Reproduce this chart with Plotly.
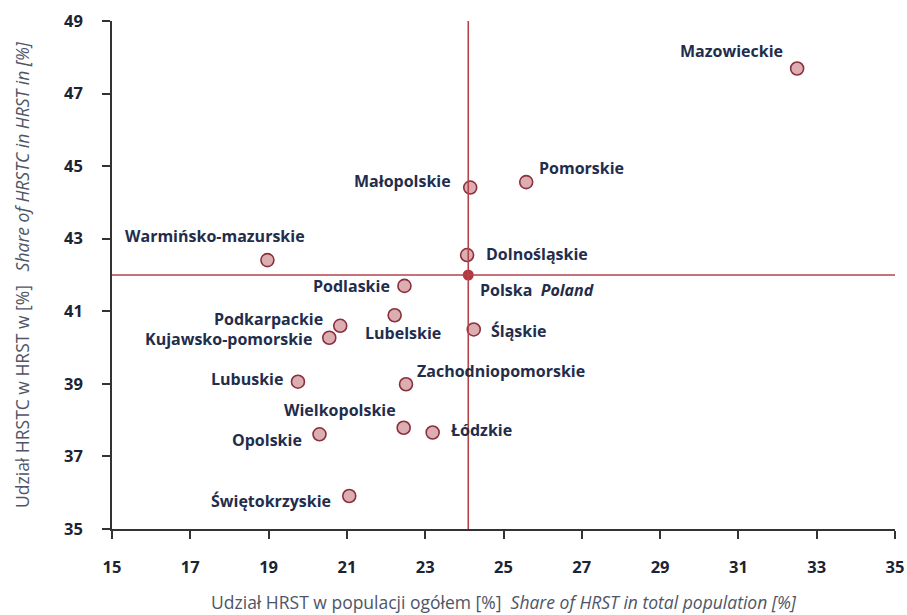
import plotly.graph_objects as go

# regions: share of HRST in population (x) vs share of HRSTC in HRST (y)
regions = ['Mazowieckie', 'Pomorskie', 'Małopolskie', 'Dolnośląskie',
           'Warmińsko-mazurskie', 'Podlaskie', 'Lubelskie', 'Podkarpackie',
           'Kujawsko-pomorskie', 'Śląskie', 'Lubuskie', 'Zachodniopomorskie',
           'Wielkopolskie', 'Łódzkie', 'Opolskie', 'Świętokrzyskie']
hrst_pop = [32.5, 25.58, 24.15, 24.07, 18.97, 22.47, 22.22, 20.83,
            20.55, 24.24, 19.75, 22.51, 22.45, 23.19, 20.30, 21.06]
hrstc_share = [47.69, 44.56, 44.41, 42.55, 42.41, 41.70, 40.89, 40.60,
               40.27, 40.50, 39.06, 38.99, 37.79, 37.66, 37.61, 35.91]

poland_x = 24.1
poland_y = 42.0

x_ticks = [15, 17, 19, 21, 23, 25, 27, 29, 31, 33, 35]
y_ticks = [35, 37, 39, 41, 43, 45, 47, 49]

# label placement (pixel offset from point, anchor)
label_pos = {
    'Mazowieckie': (-13, -18, 'right'),
    'Pomorskie': (12, -14, 'left'),
    'Małopolskie': (-18, -7, 'right'),
    'Dolnośląskie': (18, -1, 'left'),
    'Warmińsko-mazurskie': (-52, -24, 'center'),
    'Podlaskie': (-13, 0, 'right'),
    'Lubelskie': (8, 18, 'center'),
    'Podkarpackie': (-16, -7, 'right'),
    'Kujawsko-pomorskie': (-16, 1, 'right'),
    'Śląskie': (16, 2, 'left'),
    'Lubuskie': (-14, -3, 'right'),
    'Zachodniopomorskie': (10, -13, 'left'),
    'Wielkopolskie': (-7, -18, 'right'),
    'Łódzkie': (17, -2, 'left'),
    'Opolskie': (-17, 6, 'right'),
    'Świętokrzyskie': (-17, 5, 'right'),
}

line_col = '#b3434b'
label_col = '#232d4b'
font = 'Open Sans, sans-serif'

fig = go.Figure()

fig.add_hline(y=poland_y, line=dict(color=line_col, width=1.6))
fig.add_vline(x=poland_x, line=dict(color=line_col, width=1.6))

fig.add_trace(go.Scatter(
    x=hrst_pop, y=hrstc_share, mode='markers',
    marker=dict(size=13, color='#dcaeb2', line=dict(color='#8a2f3c', width=1.6)),
    hovertext=regions, showlegend=False,
))
fig.add_trace(go.Scatter(
    x=[poland_x], y=[poland_y], mode='markers',
    marker=dict(size=11, color='#b2383f'), showlegend=False,
))

for name, xv, yv in zip(regions, hrst_pop, hrstc_share):
    dx, dy, anchor = label_pos[name]
    fig.add_annotation(x=xv, y=yv, text='<b>' + name + '</b>', showarrow=False,
                       xshift=dx, yshift=-dy, xanchor=anchor, yanchor='middle',
                       borderpad=0,
                       font=dict(family=font, size=16, color=label_col))

fig.add_annotation(x=poland_x, y=poland_y, text='<b>Polska  <i>Poland</i></b>',
                   showarrow=False, xshift=11, yshift=-15, xanchor='left',
                   yanchor='middle', borderpad=0,
                   font=dict(family=font, size=16, color=label_col))

fig.update_layout(
    width=907, height=615,
    margin=dict(l=112, r=12, t=21, b=86),
    plot_bgcolor='white', paper_bgcolor='white',
    font=dict(family=font),
    xaxis=dict(
        range=[15, 35], tickvals=x_ticks, showgrid=False, zeroline=False,
        automargin=False,
        showline=True, linecolor='#333333', linewidth=1.5,
        ticks='outside', ticklen=8, tickcolor='#333333', tickwidth=1.5,
        ticklabelstandoff=14,
        tickfont=dict(family=font, size=16.5, color='#1c2333', weight='bold'),
        title=dict(text='Udział HRST w populacji ogółem [%]  <i>Share of HRST in total population [%]</i>',
                   font=dict(family=font, size=17.5, color='#4e5566'), standoff=20),
    ),
    yaxis=dict(
        range=[35, 49], tickvals=y_ticks, showgrid=False, zeroline=False,
        automargin=False,
        showline=True, linecolor='#333333', linewidth=1.5,
        ticks='outside', ticklen=8, tickcolor='#333333', tickwidth=1.5,
        ticklabelstandoff=16,
        tickfont=dict(family=font, size=16.5, color='#1c2333', weight='bold'),
        title=dict(text='Udział HRSTC w HRST w [%]   <i>Share of HRSTC in HRST in [%]</i>',
                   font=dict(family=font, size=17.5, color='#4e5566'), standoff=30),
    ),
)

fig.write_html('out.html', config={'displayModeBar': False},
               post_script="document.body.style.margin='0';")
